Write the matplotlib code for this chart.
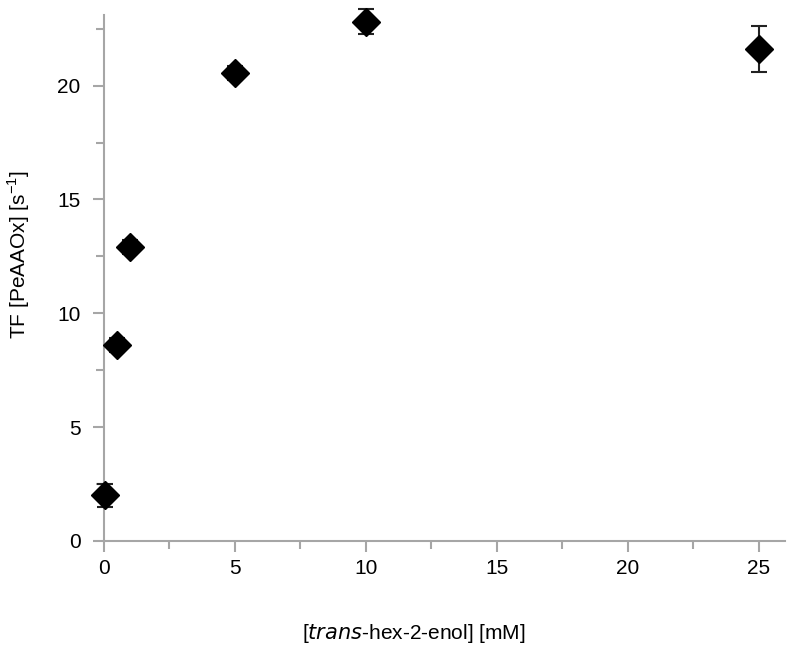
import numpy as np
import matplotlib.pyplot as plt
from matplotlib.ticker import MultipleLocator

plt.rcParams['font.family'] = ['Liberation Sans', 'DejaVu Sans']

conc = [0.05, 0.5, 1.0, 5.0, 10.0, 25.0]
tf = [2.0, 8.6, 12.9, 20.55, 22.8, 21.6]
tf_err = [0.5, 0.3, 0.3, 0.3, 0.55, 1.0]

grey = '#a6a6a6'

fig = plt.figure(figsize=(7.94, 6.46), dpi=100)
ax = fig.add_axes([104 / 794, 1 - 541 / 646, 681 / 794, 526 / 646])

ax.errorbar(conc, tf, yerr=tf_err, fmt='D', color='black', ms=14.5,
            ecolor='#222222', elinewidth=1.5, capsize=6, capthick=1.5,
            clip_on=False, zorder=3)

ax.set_xlim(0, 26)
ax.set_ylim(0, 23.1)
ax.xaxis.set_major_locator(MultipleLocator(5))
ax.xaxis.set_minor_locator(MultipleLocator(2.5))
ax.yaxis.set_major_locator(MultipleLocator(5))
ax.yaxis.set_minor_locator(MultipleLocator(2.5))

for s in ['top', 'right']:
    ax.spines[s].set_visible(False)
for s in ['left', 'bottom']:
    ax.spines[s].set_color(grey)
    ax.spines[s].set_linewidth(1.5)

ax.tick_params(which='major', length=8, width=1.5, color=grey,
               labelsize=15, pad=5)
ax.tick_params(which='minor', length=5.5, width=1.5, color=grey)
ax.tick_params(axis='y', which='major', pad=9)

ax.set_xlabel('[$\\it{trans}$-hex-2-enol] [mM]', fontsize=15, va='center')
ax.set_ylabel('TF [PeAAOx] [s$^{\\mathregular{-1}}$]', fontsize=15, va='center')
ax.xaxis.set_label_coords(0.455, -0.175)
ax.yaxis.set_label_coords(-0.125, 0.545)

fig.savefig('out.png', dpi=100)
